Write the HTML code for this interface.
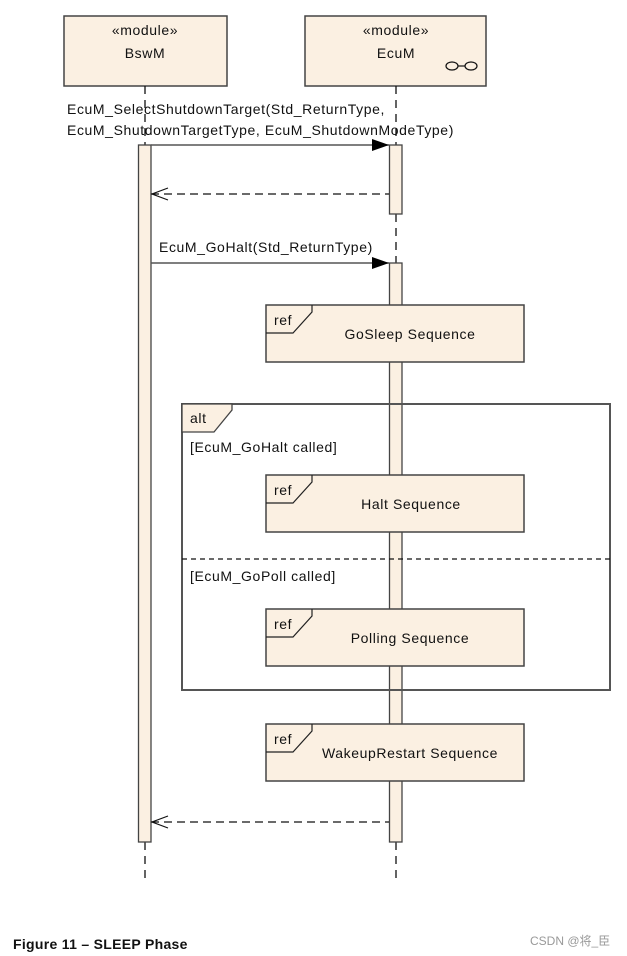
<!DOCTYPE html>
<html><head><meta charset="utf-8"><style>
html,body{margin:0;padding:0;background:#fff;}
svg{display:block;}
text{font-family:"Liberation Sans",Arial,sans-serif;font-size:14px;letter-spacing:0.6px;fill:#111;}
</style></head><body>
<svg width="627" height="956" viewBox="0 0 627 956">
<g stroke="#444" stroke-width="1.5" fill="#fbf0e2">
<rect x="64" y="16" width="163" height="70"/>
<rect x="305" y="16" width="181" height="70"/>
</g>
<text x="145" y="35" text-anchor="middle">«module»</text>
<text x="145" y="58" text-anchor="middle">BswM</text>
<text x="396" y="35" text-anchor="middle">«module»</text>
<text x="396" y="58" text-anchor="middle">EcuM</text>
<g fill="none" stroke="#111" stroke-width="1.2">
<ellipse cx="452" cy="66" rx="6" ry="4"/><ellipse cx="471" cy="66" rx="6" ry="4"/><line x1="458" y1="66" x2="465" y2="66"/>
</g>
<g stroke="#111" stroke-width="1.3" stroke-dasharray="8,6" fill="none">
<line x1="145" y1="86" x2="145" y2="145"/>
<line x1="396" y1="86" x2="396" y2="145"/>
<line x1="396" y1="214" x2="396" y2="263"/>
<line x1="145" y1="842" x2="145" y2="878"/>
<line x1="396" y1="842" x2="396" y2="878"/>
</g>
<g stroke="#444" stroke-width="1.3" fill="#fbf0e2">
<rect x="138.5" y="145" width="12.5" height="697"/>
<rect x="389.5" y="145" width="12.5" height="69"/>
<rect x="389.5" y="263" width="12.5" height="579"/>
</g>
<text x="67" y="114">EcuM_SelectShutdownTarget(Std_ReturnType,</text>
<text x="67" y="135">EcuM_ShutdownTargetType, EcuM_ShutdownModeType)</text>
<line x1="151" y1="145" x2="389" y2="145" stroke="#555" stroke-width="1.5"/>
<polygon points="372,139 389,145 372,151" fill="#000"/>
<line x1="151" y1="194" x2="389" y2="194" stroke="#111" stroke-width="1.2" stroke-dasharray="8,5"/>
<polyline points="168,188 152,194 168,200" fill="none" stroke="#111" stroke-width="1.2"/>
<text x="159" y="252">EcuM_GoHalt(Std_ReturnType)</text>
<line x1="151" y1="263" x2="389" y2="263" stroke="#555" stroke-width="1.5"/>
<polygon points="372,257 389,263 372,269" fill="#000"/>
<rect x="182" y="404" width="428" height="286" fill="none" stroke="#555" stroke-width="2"/>
<polygon points="182,404 232,404 232,410 214,432 182,432" fill="#fbf0e2" stroke="#444" stroke-width="1.3"/>
<text x="190" y="423">alt</text>
<text x="190" y="452">[EcuM_GoHalt called]</text>
<line x1="182" y1="559" x2="610" y2="559" stroke="#111" stroke-width="1.2" stroke-dasharray="5,4"/>
<text x="190" y="581">[EcuM_GoPoll called]</text>
<g stroke="#444" stroke-width="1.5" fill="#fbf0e2">
<rect x="266" y="305" width="258" height="57"/>
<rect x="266" y="475" width="258" height="57"/>
<rect x="266" y="609" width="258" height="57"/>
<rect x="266" y="724" width="258" height="57"/>
</g>
<g fill="none" stroke="#222" stroke-width="1.2">
<polyline points="266,333 293,333 312,312 312,305"/>
<polyline points="266,503 293,503 312,482 312,475"/>
<polyline points="266,637 293,637 312,616 312,609"/>
<polyline points="266,752 293,752 312,731 312,724"/>
</g>
<text x="274" y="325">ref</text>
<text x="274" y="495">ref</text>
<text x="274" y="629">ref</text>
<text x="274" y="744">ref</text>
<text x="410" y="339" text-anchor="middle">GoSleep Sequence</text>
<text x="411" y="509" text-anchor="middle">Halt Sequence</text>
<text x="410" y="643" text-anchor="middle">Polling Sequence</text>
<text x="410" y="758" text-anchor="middle">WakeupRestart Sequence</text>
<line x1="151" y1="822" x2="389" y2="822" stroke="#111" stroke-width="1.2" stroke-dasharray="8,5"/>
<polyline points="168,816 152,822 168,828" fill="none" stroke="#111" stroke-width="1.2"/>
<text x="13" y="949" style="font-weight:bold;font-size:14px;letter-spacing:0.3px">Figure 11 – SLEEP Phase</text>
<text x="530" y="945" style="font-size:12px;letter-spacing:0;fill:#999;font-family:'Liberation Sans','Noto Sans CJK SC',sans-serif">CSDN @将_臣</text>
</svg>
</body></html>
